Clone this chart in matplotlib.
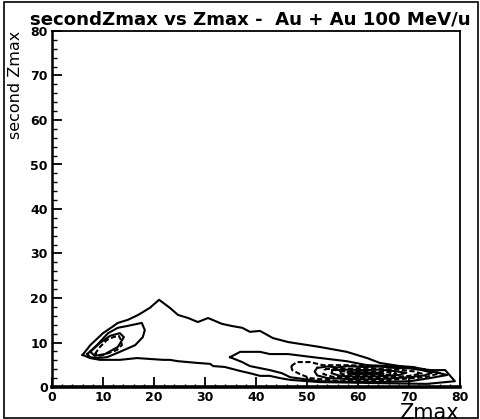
import matplotlib.pyplot as plt
from matplotlib.patches import Rectangle
from matplotlib.ticker import MultipleLocator

# contour lines (Zmax, second Zmax)
outer = [(6.0, 7.2), (7.5, 9.4), (10.0, 12.1), (11.8, 13.5), (12.9, 14.4), (14.9, 15.1),
         (16.9, 16.2), (19.2, 17.8), (21.0, 19.6), (23.1, 17.8), (24.7, 16.2), (26.7, 15.5),
         (28.6, 14.6), (30.6, 15.5), (33.3, 14.2), (35.3, 13.7), (37.3, 13.3), (38.8, 12.4),
         (40.8, 12.6), (43.3, 11.0), (46.3, 10.1), (52.5, 9.0), (57.8, 7.9), (61.8, 6.5),
         (64.3, 5.4), (68.2, 4.7), (74.1, 3.8), (77.1, 3.8), (79.0, 1.3), (73.5, 0.7),
         (62.4, 0.9), (52.5, 1.1), (46.7, 1.6), (44.7, 2.0), (42.7, 2.5), (40.8, 2.5),
         (38.8, 3.1), (36.9, 3.6), (33.9, 4.5), (31.6, 4.7), (31.0, 5.2), (28.6, 5.4),
         (24.7, 5.8), (23.1, 6.1), (21.8, 6.1), (19.2, 6.3), (16.7, 6.5), (13.3, 6.1),
         (9.4, 6.1), (7.5, 6.5)]

left_2 = [(6.9, 7.4), (8.8, 9.4), (11.0, 12.1), (12.9, 13.3), (14.7, 13.7), (17.6, 14.4),
          (18.2, 12.8), (17.8, 11.2), (16.3, 9.4), (13.3, 7.9), (10.8, 6.7), (8.8, 6.5),
          (7.5, 6.7)]
left_3 = [(7.5, 7.9), (9.4, 9.9), (11.4, 11.5), (13.3, 12.1), (14.1, 11.2), (12.9, 9.0),
          (10.4, 7.4), (8.4, 7.0)]
left_4 = [(8.4, 7.4), (9.4, 9.0), (10.8, 10.6), (12.0, 11.2), (13.1, 11.5), (13.5, 10.6),
          (13.7, 9.4), (12.7, 8.3), (11.0, 7.6), (9.4, 7.0)]

right_2 = [(34.9, 6.7), (36.9, 7.9), (40.8, 7.9), (42.7, 7.4), (46.3, 7.4), (51.2, 6.7),
           (57.8, 5.8), (61.8, 4.9), (66.3, 4.7), (70.8, 4.5), (74.1, 3.6), (77.5, 2.7),
           (74.1, 2.0), (70.2, 1.3), (62.4, 1.1), (52.5, 1.3), (46.7, 2.2), (45.1, 3.1),
           (42.7, 3.8), (38.8, 4.7), (37.3, 5.6)]
right_3 = [(46.9, 4.7), (48.0, 5.6), (50.6, 5.6), (53.1, 4.9), (57.5, 4.9), (64.3, 4.7),
           (70.2, 4.5), (74.1, 3.8), (76.1, 3.1), (73.1, 2.2), (66.3, 1.6), (56.5, 1.3),
           (50.6, 2.0), (48.6, 2.9), (47.1, 3.8)]
right_4 = [(52.0, 4.3), (54.0, 4.6), (56.0, 4.4), (58.0, 4.7), (61.0, 4.5), (64.0, 4.6),
           (67.0, 4.3), (70.0, 4.2), (72.5, 3.8), (74.5, 3.2), (73.0, 2.6), (70.0, 2.2),
           (66.0, 1.9), (62.0, 1.7), (58.0, 1.8), (54.0, 2.0), (52.0, 2.6), (51.5, 3.5)]
right_5 = [(53.5, 4.0), (56.0, 4.2), (59.0, 4.1), (62.0, 4.3), (65.0, 4.0), (68.0, 3.9),
           (71.0, 3.5), (72.5, 3.0), (70.0, 2.5), (66.0, 2.2), (62.0, 2.0), (58.0, 2.1),
           (55.0, 2.3), (53.2, 2.9)]
right_6 = [(55.0, 3.8), (58.0, 3.9), (61.0, 3.8), (64.0, 3.9), (67.0, 3.6), (69.5, 3.2),
           (68.0, 2.7), (64.0, 2.4), (60.0, 2.3), (56.5, 2.5), (54.8, 3.1)]
right_7 = [(56.5, 3.5), (60.0, 3.6), (63.0, 3.5), (66.0, 3.4), (67.5, 3.0), (65.0, 2.7),
           (61.0, 2.6), (57.5, 2.8), (56.2, 3.1)]
right_8 = [(58.0, 3.3), (61.0, 3.3), (64.0, 3.2), (65.0, 3.0), (62.0, 2.85), (59.0, 2.9)]

contours = [(outer, '-'), (left_2, '-'), (left_3, '-'), (left_4, '--'),
            (right_2, '-'), (right_3, '--'), (right_4, '-'), (right_5, '--'),
            (right_6, '-'), (right_7, '--'), (right_8, '-')]

fig = plt.figure(figsize=(4.81, 4.19), dpi=100)
ax = fig.add_axes([52 / 481, 32 / 419, 408 / 481, 356 / 419])

for pts, ls in contours:
    xs = [p[0] for p in pts] + [pts[0][0]]
    ys = [p[1] for p in pts] + [pts[0][1]]
    if ls == '--':
        ax.plot(xs, ys, color='black', lw=1.5, ls='--', dashes=(2.5, 1.2))
    else:
        ax.plot(xs, ys, color='black', lw=1.5)

ax.set_xlim(0, 80)
ax.set_ylim(0, 80)
ax.xaxis.set_major_locator(MultipleLocator(10))
ax.xaxis.set_minor_locator(MultipleLocator(2))
ax.yaxis.set_major_locator(MultipleLocator(10))
ax.yaxis.set_minor_locator(MultipleLocator(2))
ax.tick_params(which='major', direction='in', length=7, width=1.3, labelsize=9, pad=3)
ax.tick_params(which='minor', direction='in', length=3.5, width=1.0)
ax.tick_params(axis='x', which='minor', length=2)
for lab in ax.get_xticklabels() + ax.get_yticklabels():
    lab.set_fontweight('bold')

ax.spines['left'].set_linewidth(1.8)
ax.spines['bottom'].set_linewidth(2.6)
ax.spines['top'].set_linewidth(1.3)
ax.spines['right'].set_linewidth(1.3)

fig.text(30 / 481, 1 - 24 / 419, 'secondZmax vs Zmax -  Au + Au 100 MeV/u',
         fontsize=13.1, fontweight='heavy', va='baseline', ha='left')
fig.text(16 / 481, 1 - 31 / 419, 'second Zmax', rotation=90, fontsize=11.5,
         ha='center', va='top')
fig.text(459 / 481, 1 - 403 / 419, 'Zmax', fontsize=15, ha='right', va='top')

fig.patches.append(Rectangle((4 / 481, 1 / 419), 474 / 481, 416 / 419,
                             transform=fig.transFigure, fill=False, lw=1.2, color='black'))

fig.savefig('out.png', dpi=100)
